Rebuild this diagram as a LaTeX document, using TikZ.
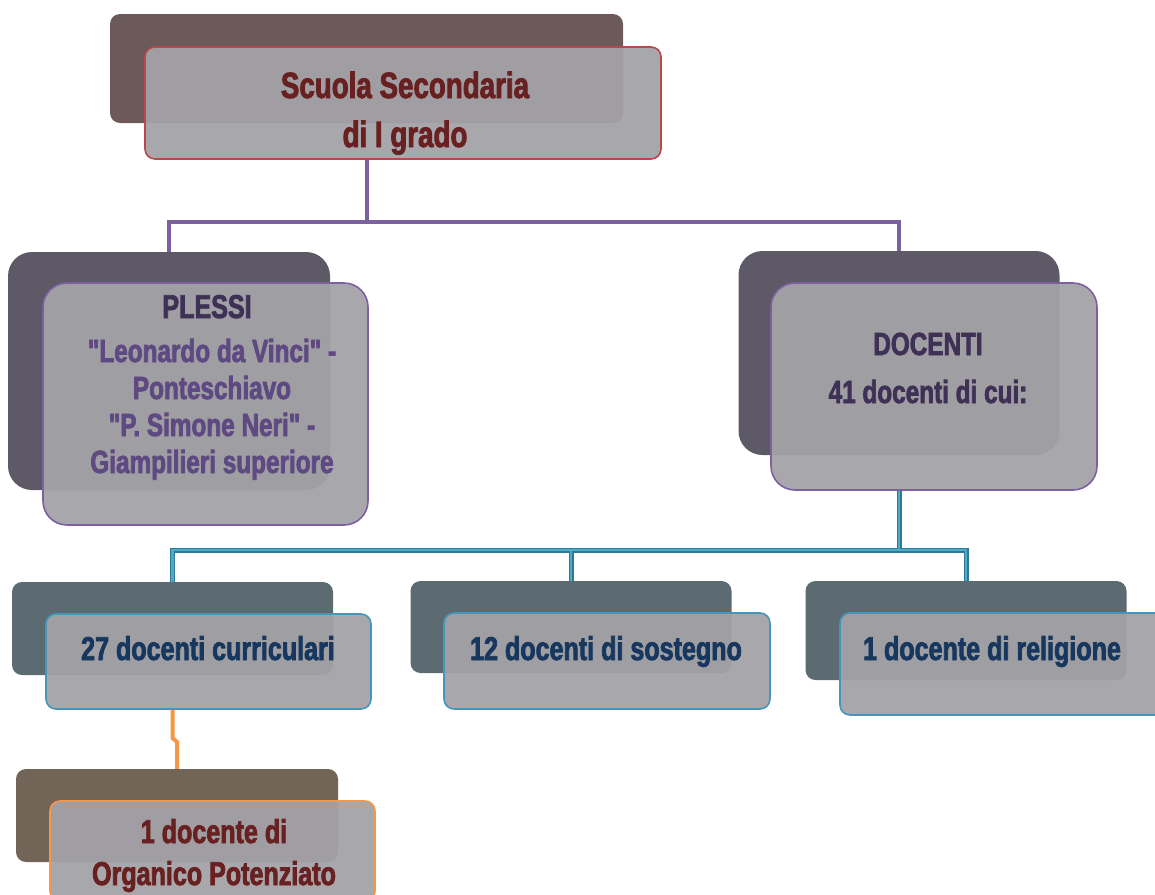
\documentclass[tikz,border=0pt]{standalone}
\usepackage{fontspec}
\newfontfamily\imp[FakeStretch=0.76,BoldFeatures={FakeStretch=0.76,FakeBold=2.2}]{Liberation Sans}
\definecolor{frontfill}{RGB}{163,162,166}
\definecolor{backtop}{RGB}{108,90,90}
\definecolor{backpur}{RGB}{93,89,102}
\definecolor{backblu}{RGB}{92,106,114}
\definecolor{backorg}{RGB}{115,100,88}
\definecolor{bred}{RGB}{185,72,78}
\definecolor{bpur}{RGB}{125,96,160}
\definecolor{bblu}{RGB}{70,150,185}
\definecolor{borg}{RGB}{247,150,70}
\definecolor{tred}{RGB}{104,32,32}
\definecolor{tpurd}{RGB}{63,49,86}
\definecolor{tpur}{RGB}{95,73,130}
\definecolor{tblu}{RGB}{23,55,94}
\definecolor{lblu}{RGB}{75,172,198}
\definecolor{lblud}{RGB}{50,120,150}
\tikzset{
  backbox/.style={draw=none, rounded corners=10pt, inner sep=0pt},
  frontbox/.style={fill=frontfill, fill opacity=0.95, line width=1.6pt, rounded corners=10pt, inner sep=0pt},
  bigback/.style={backbox, rounded corners=24pt},
  bigfront/.style={frontbox, rounded corners=24pt},
  txt/.style={align=center, inner sep=0pt, font=\imp\bfseries},
  pline/.style={draw=bpur, line width=4pt},
  bline/.style={draw=lblu, line width=2.6pt},
  bedge/.style={draw=lblud, line width=5pt},
  oline/.style={draw=borg, line width=4pt},
}
\begin{document}
\begin{tikzpicture}[x=1pt,y=-1pt]
\useasboundingbox (0,0) rectangle (1155,894);
% back boxes
\node[backbox, fill=backtop, minimum width=513pt, minimum height=109pt] (tb) at (366.5,68.5) {};
\node[bigback, fill=backpur, minimum width=322pt, minimum height=238pt] (pb) at (169,371) {};
\node[bigback, fill=backpur, minimum width=321pt, minimum height=204pt] (db) at (899,353) {};
\node[backbox, fill=backblu, minimum width=321pt, minimum height=93pt] (r1b) at (172.5,628.5) {};
\node[backbox, fill=backblu, minimum width=321pt, minimum height=92pt] (r2b) at (571,627) {};
\node[backbox, fill=backblu, minimum width=321pt, minimum height=99pt] (r3b) at (966,630.5) {};
\node[backbox, fill=backorg, minimum width=322pt, minimum height=93pt] (ob) at (177,815.5) {};
% junctions
\coordinate (j0) at (tb.center |- 0,159);
\coordinate (j1) at (tb.center |- 0,222);
\coordinate (j3) at (db.center |- 0,490);
\coordinate (j2) at (db.center |- 0,550);
\coordinate (k0) at (r1b.center |- 0,709);
\coordinate (k1) at (r1b.center |- 0,738);
\coordinate (k2) at (ob.center |- 0,742);
% connectors
\draw[pline] (j0) -- (j1) -| (pb.north);
\draw[pline] (j1) -| (db.north);
\draw[bedge] (j3) -- (j2) -| (r1b.north);
\draw[bedge] (j2) -| (r2b.north);
\draw[bedge] (j2) -| (r3b.north);
\draw[bline] (j3) -- (j2) -| (r1b.north);
\draw[bline] (j2) -| (r2b.north);
\draw[bline] (j2) -| (r3b.north);
\draw[oline] (k0) -- (k1) -- (k2) -- (ob.north);
% front boxes
\node[frontbox, draw=bred, minimum width=516pt, minimum height=112pt] (tf) at (403,103) {};
\node[bigfront, draw=bpur, minimum width=325pt, minimum height=242pt] (pf) at (205.5,404) {};
\node[bigfront, draw=bpur, minimum width=326pt, minimum height=207pt] (df) at (934,386.5) {};
\node[frontbox, draw=bblu, minimum width=325pt, minimum height=95pt] (r1f) at (208.5,661.5) {};
\node[frontbox, draw=bblu, minimum width=326pt, minimum height=96pt] (r2f) at (607,661) {};
\node[frontbox, draw=bblu, minimum width=330pt, minimum height=102pt] (r3f) at (1005,664) {};
\node[frontbox, draw=borg, minimum width=325pt, minimum height=100pt] (of) at (212.5,851) {};
% texts (anchor base = baseline of last line)
\node[txt, text=tred, font=\imp\bfseries\fontsize{36.5}{49}\selectfont, anchor=base] (tt) at (405,147) {Scuola Secondaria\\di I grado};
\node[txt, text=tpurd, font=\imp\bfseries\fontsize{33}{40}\selectfont, anchor=base] (pt1) at (207,318) {PLESSI};
\node[txt, text=tpur, font=\imp\bfseries\fontsize{32}{37}\selectfont, anchor=base] (pt2) at (212,473) {"Leonardo da Vinci" -\\Ponteschiavo\\"P. Simone Neri" -\\Giampilieri superiore};
\node[txt, text=tpurd, font=\imp\bfseries\fontsize{32}{48}\selectfont, anchor=base] (dt) at (928,403) {DOCENTI\\41 docenti di cui:};
\node[txt, text=tblu, font=\imp\bfseries\fontsize{33}{40}\selectfont, anchor=base] (r1t) at (208,660) {27 docenti curriculari};
\node[txt, text=tblu, font=\imp\bfseries\fontsize{33}{40}\selectfont, anchor=base] (r2t) at (606,660) {12 docenti di sostegno};
\node[txt, text=tblu, font=\imp\bfseries\fontsize{33}{40}\selectfont, anchor=base] (r3t) at (992,660) {1 docente di religione};
\node[txt, text=tred, font=\imp\bfseries\fontsize{33}{42}\selectfont, anchor=base] (ot) at (214,885) {1 docente di\\Organico Potenziato};
\end{tikzpicture}
\end{document}
